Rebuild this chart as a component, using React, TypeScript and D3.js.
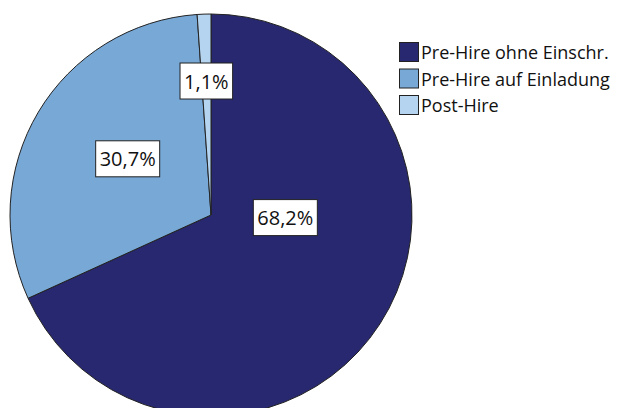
import React, { useEffect, useRef } from "react";
import * as d3 from "d3";

const categories = ["Pre-Hire ohne Einschr.", "Pre-Hire auf Einladung", "Post-Hire"];
const values = [68.2, 30.7, 1.1];
const valueLabels = ["68,2%", "30,7%", "1,1%"];
const colors = ["#27286f", "#78a8d6", "#b4d4f0"];
// label placement (angle in degrees clockwise from top, radius as fraction of pie radius)
const labelAngles = [92, 304, 358];
const labelRadii = [0.37, 0.5, 0.667];

const W = 619;
const H = 408;

export default function App() {
  const ref = useRef<SVGSVGElement>(null);

  useEffect(() => {
    const svg = d3.select(ref.current);
    svg.selectAll("*").remove();
    const cx = 211, cy = 215, r = 201;
    const g = svg.append("g").attr("transform", `translate(${cx},${cy})`);
    const pie = d3.pie<number>().sort(null).value((d) => d);
    const arcs = pie(values);
    const arc = d3.arc<d3.PieArcDatum<number>>().innerRadius(0).outerRadius(r);
    g.selectAll("path.slice")
      .data(arcs)
      .join("path")
      .attr("class", "slice")
      .attr("d", arc as any)
      .attr("fill", (_, i) => colors[i])
      .attr("stroke", "#222")
      .attr("stroke-width", 1);

    arcs.forEach((a, i) => {
      const ang = (labelAngles[i] * Math.PI) / 180;
      const rr = labelRadii[i] * r;
      const x = Math.sin(ang) * rr;
      const y = -Math.cos(ang) * rr;
      const lg = g.append("g").attr("transform", `translate(${x},${y})`);
      const rect = lg.append("rect");
      const t = lg
        .append("text")
        .attr("text-anchor", "middle")
        .attr("dominant-baseline", "central")
        .attr("font-family", "'Open Sans', sans-serif")
        .attr("font-size", 20)
        .attr("fill", "#111")
        .text(valueLabels[i]);
      const bb = (t.node() as SVGTextElement).getBBox();
      const bw = bb.width + 8;
      const bh = 36;
      rect
        .attr("x", -bw / 2)
        .attr("y", -bh / 2)
        .attr("width", bw)
        .attr("height", bh)
        .attr("fill", "#fff")
        .attr("stroke", "#222")
        .attr("stroke-width", 1);
    });

    const leg = svg.append("g").attr("transform", "translate(399,42)");
    categories.forEach((c, i) => {
      const row = leg.append("g").attr("transform", `translate(0,${i * 26.5})`);
      row
        .append("rect")
        .attr("x", 0.5)
        .attr("y", 0.5)
        .attr("width", 19)
        .attr("height", 19)
        .attr("fill", colors[i])
        .attr("stroke", "#222")
        .attr("stroke-width", 1);
      row
        .append("text")
        .attr("x", 22)
        .attr("y", 17)
        .attr("font-family", "'Open Sans', sans-serif")
        .attr("font-size", 18)
        .attr("fill", "#111")
        .text(c);
    });
  }, []);

  return (
    <svg
      ref={ref}
      width={W}
      height={H}
      style={{ position: "absolute", left: 0, top: 0, background: "#fff" }}
    />
  );
}
